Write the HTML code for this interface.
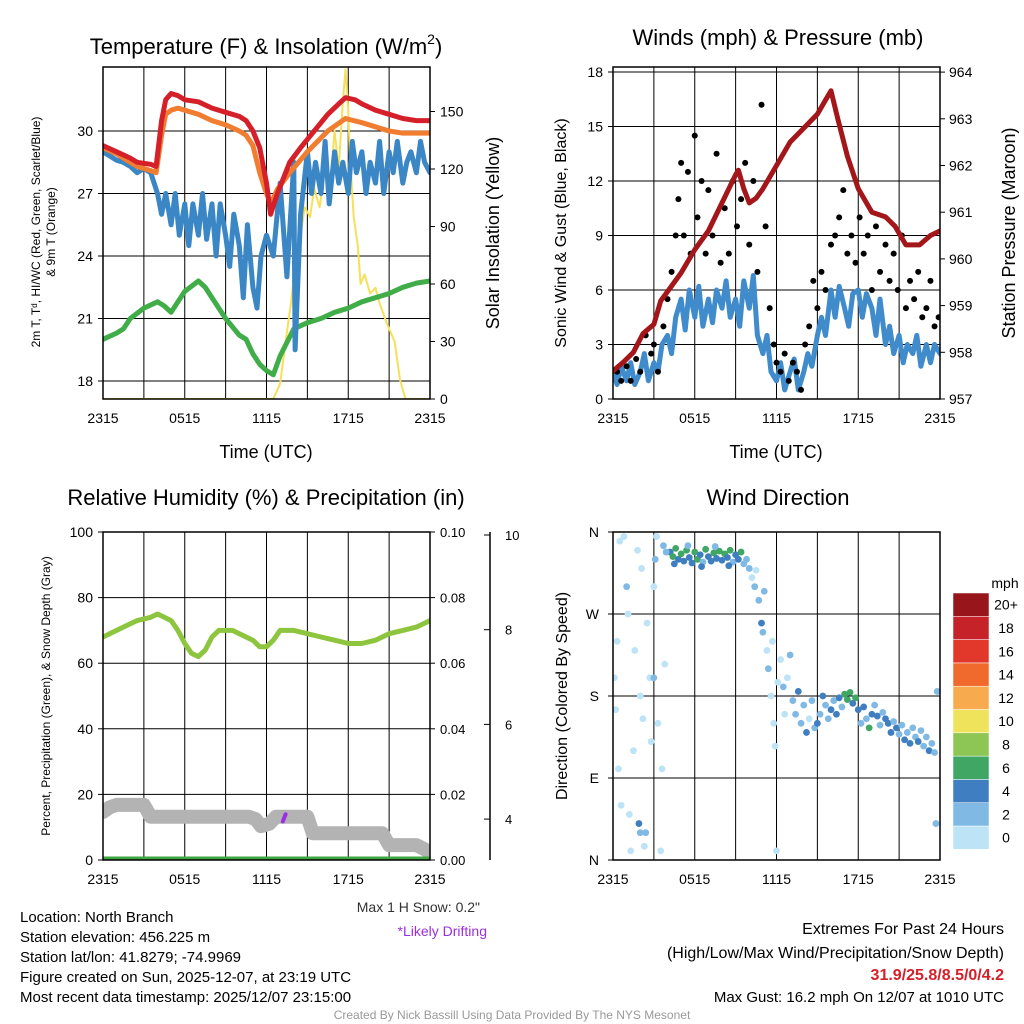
<!DOCTYPE html>
<html><head><meta charset="utf-8"><style>
html,body{margin:0;padding:0;background:#fff;}
svg{display:block;font-family:"Liberation Sans",sans-serif;}
</style></head><body>
<svg id="c" width="1024" height="1024" viewBox="0 0 1024 1024"></svg>
<script>
// ---------- DATA ----------
const xTickLabels = ["2315","0515","1115","1715","2315"];
const tempTicks = [18,21,24,27,30];
const insolTicks = [0,30,60,90,120,150];
const windTicks = [0,3,6,9,12,15,18];
const presTicks = [957,958,959,960,961,962,963,964];
const rhTicks = [0,20,40,60,80,100];
const precipTicks = ["0.00","0.02","0.04","0.06","0.08","0.10"];
const snowTicks = [4,6,8,10];
const dirTicks = ["N","E","S","W","N"];
const dirTickVals = [0,90,180,270,360];
const cbLabels = ["0","2","4","6","8","10","12","14","16","18","20+"];
const cbColors = ["#bde3f6","#80b9e4","#3f7fc1","#3fa663","#8dc655","#efe35c","#f8aa4f","#f06a2e","#e1382b","#c6222a","#97161c"];

const redH = [0,1,2,2.5,3.5,3.9,4.3,4.6,5,5.5,6,7,8,9,10,10.5,11,11.5,12,12.3,12.8,13.7,14.5,15.5,16.5,17.3,17.8,18.5,19,20,21,22,23,24];
const redV = [29.3,29,28.7,28.5,28.4,28.3,30.5,31.5,31.8,31.7,31.5,31.4,31.1,30.9,30.7,30.5,30,29.2,27.5,26,27,28.5,29.2,30,30.8,31.3,31.6,31.5,31.3,31,30.8,30.6,30.5,30.5];
const orH = [0,1,2,2.5,3.5,3.9,4.3,4.6,5,5.5,6,7,8,9,10,10.5,11,11.5,12,12.3,12.8,13.7,15,16.5,17.8,19,20,21,22,23,24];
const orV = [29.2,28.9,28.5,28.3,28.1,28,29.8,30.8,31,31.1,31,30.8,30.5,30.3,30,29.8,29.3,28,27,26.5,27.2,28,29,30,30.6,30.4,30.2,30,29.9,29.9,29.9];
const blueH = [0,0.5,1,1.5,2,2.5,3,3.5,4,4.3,4.6,5,5.3,5.6,6,6.3,6.6,7,7.3,7.6,8,8.3,8.6,9,9.3,9.6,10,10.3,10.6,11,11.3,11.6,12,12.5,13,13.5,14,14.1,14.5,15,15.3,15.6,16,16.3,16.6,17,17.3,17.6,18,18.3,18.6,19,19.3,19.6,20,20.3,20.6,21,21.3,21.6,22,22.3,22.6,23,23.3,23.6,24];
const blueV = [29,28.8,28.6,28.5,28.3,28,28.2,28,27,26,27,25.5,27,25,26.5,24.5,26.5,25,27,24.8,26.5,24,26.5,25,23.5,26,24.5,22,25.5,22.5,21.5,24,25,24,27.5,23,28.5,19.5,26,29,27,28.5,27,29.5,26.5,29,27.5,28.5,27,29.5,28,29,27,28.5,27.5,29.5,27,29,28,29.5,27.5,28.5,29,28,29.5,28.5,28];
const greenH = [0,1,1.5,2,3,4,4.5,5,5.5,6,7,7.5,8,9,10,10.5,11,11.5,12,12.5,13,14,15,16,17,18,19,20,21,22,23,24];
const greenV = [20,20.3,20.5,21,21.5,21.8,21.6,21.3,21.8,22.3,22.8,22.5,22,21,20.2,20,19.3,18.8,18.5,18.3,19.2,20.5,20.8,21,21.3,21.5,21.8,22,22.2,22.5,22.7,22.8];
const insH = [0,12,12.5,13,13.4,13.8,14.1,14.5,14.8,15.2,15.5,15.9,16.3,16.6,17,17.3,17.6,17.8,18,18.1,18.4,18.7,18.9,19.2,19.6,20,20.3,20.8,21.4,21.8,22.2,24];
const insV = [0,0,0,8,30,50,70,85,100,95,110,100,120,105,140,120,155,172,150,130,95,80,60,65,55,58,50,40,30,10,0,0];

const windH = [0,0.3,0.6,1,1.3,1.6,2,2.3,2.6,3,3.3,3.6,4,4.3,4.6,5,5.3,5.6,6,6.3,6.6,7,7.3,7.6,8,8.3,8.6,9,9.3,9.6,10,10.3,10.6,11,11.3,11.6,12,12.3,12.6,13,13.3,13.6,14,14.3,14.6,15,15.3,15.6,16,16.3,16.6,17,17.3,17.6,18,18.3,18.6,19,19.3,19.6,20,20.3,20.6,21,21.3,21.6,22,22.3,22.6,23,23.3,23.6,24];
const windV = [1.5,0.8,1.8,1,2,0.8,1.5,2.5,1,2,1.5,3,3.5,2.5,4.5,5.5,3.8,6,4.5,6.2,4,5.5,4.2,6,5,6.5,4.5,5.5,4,6.5,5,6.8,3.5,2.5,3.5,1.5,1,2,0.5,1.5,2.2,0.5,1.5,2.5,1.8,3.5,4.5,3.5,6,4.5,6.2,5,4,5.8,6,4.5,5.8,5,3.5,5.5,3,4,2.5,3.5,2,3,2.5,3.5,1.8,3,2,3,2.5];
const gustH = [0.3,0.6,1,1.3,1.7,2,2.4,2.8,3,3.3,3.7,4,4.3,4.6,4.8,5,5.2,5.5,5.7,6,6.2,6.5,6.8,7,7.3,7.6,7.9,8.2,8.5,8.8,9.1,9.4,9.7,10,10.3,10.6,10.9,11.2,11.5,11.8,12,12.3,12.6,12.9,13.2,13.5,13.8,14.1,14.4,14.7,15,15.3,15.6,16,16.3,16.6,16.9,17.2,17.5,17.8,18.1,18.4,18.7,19,19.3,19.6,20,20.3,20.6,20.9,21.2,21.5,21.8,22.1,22.4,22.7,23,23.3,23.6,23.9];
const gustV = [1.5,1,1.8,1,2.2,1.5,3.5,2.5,3,1.5,4,5.5,7,9,11,13,9,12.5,8,14.5,10,12,8,11.5,9,13.5,7.5,10.5,8,12,9.5,11,13,8.5,12,7,16.2,9.5,5,3,2,1.5,2.5,1,2,1.5,0.5,3,4,6.5,5,7,6,8.5,9,10,11.5,8,9,7.5,10,8,9,6,9.5,7,8.5,6.5,8,6,9,5,6.5,5.5,7,4.5,5,6.5,4,4.5];
const presH = [0,0.8,1.5,2.2,3,3.5,4,5,6,7,8,8.5,9,9.2,9.6,10,10.5,11,12,13,14,15,15.6,16,16.5,17.2,18,19,20,20.7,21.5,22.5,23.3,24];
const presV = [957.6,957.8,958,958.4,958.6,959.1,959.3,959.7,960.2,960.6,961.2,961.5,961.8,961.9,961.5,961.2,961.3,961.5,962,962.5,962.8,963.1,963.4,963.6,963.0,962.2,961.5,961.0,960.9,960.7,960.3,960.3,960.5,960.6];

const rhH = [0,1,2,2.5,3.5,4,4.5,5,5.5,6,6.5,7,7.5,8,8.5,9.5,10.5,11,11.5,12,12.5,13,14,15,16,17,18,19,20,21,22,23,24];
const rhV = [68,70,72,73,74,75,74,73,70,66,63,62,64,68,70,70,68,67,65,65,67,70,70,69,68,67,66,66,67,69,70,71,73];
const precipH = [0,24];
const precipV = [0,0];
const snowH = [0,0.5,1,3,3.5,10.7,11.2,11.6,12.2,12.7,15,15.4,20.5,21,23,24];
const snowV = [4.15,4.25,4.3,4.3,4.05,4.05,4.0,3.85,3.9,4.05,4.05,3.7,3.7,3.45,3.45,3.3];

const dirH = [0.1,0.2,0.3,0.5,0.6,0.8,1,1.1,1.3,1.5,1.6,1.8,2,2.1,2.2,2.4,2.5,2.7,2.8,3,3,3.2,3.3,3.5,3.6,3.8,1.9,2,2.3,0.4,1.2,3.1,3.7,
4.2,4.4,4.6,4.8,5,5.2,5.4,5.6,5.8,6,6.2,6.4,6.6,6.8,7,7.2,7.4,7.6,7.8,8,8.2,8.4,8.6,8.8,9,9.2,9.4,9.6,4.5,5.5,6.5,7.5,8.5,9.8,3.9,
10,10.2,10.4,10.5,10.7,10.9,11,11.1,11.3,11.4,11.6,11.7,11.8,11.9,12,12.1,12.3,12.5,12.6,12.8,13,13.2,13.4,13.6,13.8,14,14.2,14.4,14.6,14.8,15,15.2,15.4,15.6,15.8,16,16.2,16.4,16.6,16.8,17,17.2,17.4,17.6,17.8,18,18.2,18.4,18.6,18.8,19,19.2,19.4,19.6,19.8,20,20.2,20.4,20.6,20.8,21,21.2,21.4,21.6,21.8,22,22.2,22.4,22.6,22.8,23,23.2,23.4,23.6,23.8,23.7];
const dirV = [200,165,240,350,60,355,300,270,10,120,230,340,180,320,155,30,260,200,130,200,300,355,150,10,100,215,40,30,15,100,50,330,345,
338,333,342,330,336,328,340,332,326,338,330,335,327,341,333,328,337,331,339,329,336,332,340,327,335,330,338,325,325,345,322,344,323,330,338,
320,310,300,318,285,260,250,295,230,210,180,240,150,125,10,195,220,190,160,200,225,175,160,185,150,170,140,155,175,145,150,160,180,170,155,165,175,160,178,168,182,176,184,172,178,165,150,168,155,145,160,170,158,148,162,155,150,140,152,145,138,148,132,140,128,145,135,130,142,125,135,120,128,118,185,40];
const dirS = [0,0,0,0,0,0,2,0,0,0,0,0,0,1,0,2,0,0,0,2,0,1,0,0,1,0,4,3,0,0,0,2,2,
5,6,7,5,6,4,7,5,4,6,7,5,3,6,5,4,7,5,6,4,7,5,6,3,5,4,6,3,4,3,4,3,4,2,2,
2,1,3,1,2,4,2,2,1,2,1,1,1,1,1,1,1,2,1,1,2,3,2,4,2,3,4,1,3,2,4,3,4,2,3,4,3,4,5,3,6,7,6,5,7,4,3,4,3,6,4,3,4,3,2,4,5,4,3,4,3,2,4,3,4,2,3,4,2,3,2,4,3,2,2,2];

// ---------- DRAW ----------
const svg = document.getElementById('c');
const NS = 'http://www.w3.org/2000/svg';
function mk(tag, attrs, parent, name, inter){
  const e = document.createElementNS(NS, tag);
  for (const k in attrs) e.setAttribute(k, attrs[k]);
  
  
  (parent || svg).appendChild(e);
  return e;
}
function txt(x,y,s,size,anchor,name,extra){
  const a = Object.assign({x:x,y:y,'font-size':size,'text-anchor':anchor||'middle',fill:'#000'}, extra||{});
  const t = mk('text', a, svg, name, false);
  t.textContent = s;
  return t;
}
function vtxt(x,y,s,size,name,rot){
  const t = mk('text',{x:0,y:0,'font-size':size,'text-anchor':'middle',fill:'#000',transform:`translate(${x},${y}) rotate(${rot||-90})`},svg,name,false);
  t.textContent = s; return t;
}
const PW = 327;
function panel(x0,y0,h,name){
  const g = mk('g',{},svg,name,false);
  for (let i=1;i<8;i++){
    const x = x0 + i*PW/8;
    mk('line',{x1:x,y1:y0,x2:x,y2:y0+h,stroke:'#000','stroke-width':1},g,'grid-vertical',false);
  }
  return g;
}
function xAxisLabels(x0,yb,name){
  xTickLabels.forEach((l,i)=>{ txt(x0+i*PW/4, yb+24, l, 14, 'middle', name+'-tick-'+i); });
}
function poly(g,hs,vs,xf,yf,color,w,name){
  let d='';
  hs.forEach((h,i)=>{ d += (i?'L':'M') + xf(h).toFixed(1)+','+yf(vs[i]).toFixed(1); });
  mk('path',{d:d,fill:'none',stroke:color,'stroke-width':w,'stroke-linejoin':'round','stroke-linecap':'round'},g,name,false);
}

// Panel 1
(function(){
  const x0=103,y0=67,y1=399;
  const g = panel(x0,y0,y1-y0,'temperature-panel');
  const xs = h=>x0+h*PW/24;
  const yT = v=>381-(v-18)*62.5/3;
  const yI = v=>399-v*57.5/30;
  tempTicks.forEach(v=>{ mk('line',{x1:x0,x2:x0+PW,y1:yT(v),y2:yT(v),stroke:'#000','stroke-width':1},g,'temp-gridline',false);
    mk('line',{x1:x0-5,x2:x0,y1:yT(v),y2:yT(v),stroke:'#000'},g,'temp-tick',false);
    txt(x0-10,yT(v)+5,String(v),14,'end','temp-tick-label'); });
  insolTicks.forEach(v=>{ mk('line',{x1:x0+PW,x2:x0+PW+5,y1:yI(v),y2:yI(v),stroke:'#000'},g,'insol-tick',false);
    txt(x0+PW+10,yI(v)+5,String(v),14,'start','insol-tick-label'); });
  const cl = mk('clipPath',{id:'cp1'},svg,'clip1',false);
  mk('rect',{x:x0,y:y0,width:PW,height:y1-y0},cl,'clip-rect',false);
  const s = mk('g',{'clip-path':'url(#cp1)'},g,'series',false);
  poly(s,insH,insV,xs,yI,'#f6e05a',2,'insolation-line');
  poly(s,greenH,greenV,xs,yT,'#41ad49',5,'dewpoint-line');
  poly(s,blueH,blueV,xs,yT,'#3b87c6',5,'windchill-line');
  poly(s,orH,orV,xs,yT,'#f07d30',5,'temp-9m-line');
  poly(s,redH,redV,xs,yT,'#d5202a',5,'temp-2m-line');
  mk('rect',{x:x0,y:y0,width:PW,height:y1-y0,fill:'none',stroke:'#000','stroke-width':1.5},g,'plot-frame',false);
  xAxisLabels(x0,y1,'p1-x');
  const t = mk('text',{x:266,y:54,'font-size':22,'text-anchor':'middle',fill:'#000'},svg,'temp-title',false);
  t.appendChild(document.createTextNode('Temperature (F) & Insolation (W/m'));
  const sup = mk('tspan',{'font-size':14,dy:-10},t,'temp-title-sup',false);
  sup.textContent='2';
  const cp = mk('tspan',{dy:10},t,'temp-title-close',false);
  cp.textContent=')';
  txt(266,458,'Time (UTC)',18,'middle','p1-x-title');
  vtxt(40,232,'2m T, T\u1D48, HI/WC (Red, Green, Scarlet/Blue)',12,'temp-y-title');
  vtxt(55,232,'& 9m T (Orange)',12,'temp-y-title-2');
  vtxt(499,233,'Solar Insolation (Yellow)',18,'insol-y-title');
})();

// Panel 2
(function(){
  const x0=613,y0=67,y1=399;
  const g = panel(x0,y0,y1-y0,'wind-panel');
  const xs = h=>x0+h*PW/24;
  const yW = v=>399-v*54.5/3;
  const yP = v=>399-(v-957)*46.7;
  windTicks.forEach(v=>{ mk('line',{x1:x0,x2:x0+PW,y1:yW(v),y2:yW(v),stroke:'#000'},g,'wind-gridline',false);
    mk('line',{x1:x0-5,x2:x0,y1:yW(v),y2:yW(v),stroke:'#000'},g,'wind-tick',false);
    txt(x0-10,yW(v)+5,String(v),14,'end','wind-tick-label'); });
  presTicks.forEach(v=>{ mk('line',{x1:x0+PW,x2:x0+PW+5,y1:yP(v),y2:yP(v),stroke:'#000'},g,'pres-tick',false);
    txt(x0+PW+9,yP(v)+5,String(v),14,'start','pres-tick-label'); });
  const cl = mk('clipPath',{id:'cp2'},svg,'clip2',false);
  mk('rect',{x:x0,y:y0,width:PW,height:y1-y0},cl,'clip-rect',false);
  const s = mk('g',{'clip-path':'url(#cp2)'},g,'series',false);
  poly(s,windH,windV,xs,yW,'#3f8bcb',5,'wind-speed-line');
  gustH.forEach((h,i)=>{ mk('circle',{cx:xs(h),cy:yW(gustV[i]),r:3,fill:'#000'},s,'gust-point',false); });
  poly(s,presH,presV,xs,yP,'#a3161a',5,'pressure-line');
  mk('rect',{x:x0,y:y0,width:PW,height:y1-y0,fill:'none',stroke:'#000','stroke-width':1.5},g,'plot-frame',false);
  xAxisLabels(x0,y1,'p2-x');
  txt(778,45,'Winds (mph) & Pressure (mb)',22,'middle','wind-title');
  txt(776,458,'Time (UTC)',18,'middle','p2-x-title');
  vtxt(566,233,'Sonic Wind & Gust (Blue, Black)',16,'wind-y-title');
  vtxt(1015,233,'Station Pressure (Maroon)',18,'pres-y-title');
})();

// Panel 3
(function(){
  const x0=103,y0=532,y1=860;
  const g = panel(x0,y0,y1-y0,'humidity-panel');
  const xs = h=>x0+h*PW/24;
  const yR = v=>860-v*3.28;
  const yS = v=>535+(10-v)*47.35;
  rhTicks.forEach((v,i)=>{ mk('line',{x1:x0,x2:x0+PW,y1:yR(v),y2:yR(v),stroke:'#000'},g,'rh-gridline',false);
    mk('line',{x1:x0-5,x2:x0,y1:yR(v),y2:yR(v),stroke:'#000'},g,'rh-tick',false);
    txt(x0-10,yR(v)+5,String(v),14,'end','rh-tick-label');
    mk('line',{x1:x0+PW,x2:x0+PW+5,y1:yR(v),y2:yR(v),stroke:'#000'},g,'precip-tick',false);
    txt(x0+PW+10,yR(v)+5,precipTicks[i],13,'start','precip-tick-label'); });
  mk('line',{x1:490,x2:490,y1:532,y2:860,stroke:'#000','stroke-width':1.5},g,'snow-axis',false);
  snowTicks.forEach(v=>{ mk('line',{x1:484,x2:490,y1:yS(v),y2:yS(v),stroke:'#000'},g,'snow-tick',false);
    txt(505,yS(v)+5,String(v),13,'start','snow-tick-label'); });
  const cl = mk('clipPath',{id:'cp3'},svg,'clip3',false);
  mk('rect',{x:x0,y:y0,width:PW,height:y1-y0},cl,'clip-rect',false);
  const s = mk('g',{'clip-path':'url(#cp3)'},g,'series',false);
  poly(s,snowH,snowV,xs,yS,'#b3b3b3',14,'snow-depth-line');
  mk('path',{d:`M${xs(13.2)},${yS(3.95)}L${xs(13.4)},${yS(4.1)}`,stroke:'#9b30e0','stroke-width':4,'stroke-linecap':'round'},s,'drifting-mark',false);
  poly(s,rhH,rhV,xs,yR,'#8dc53f',5,'rh-line');
  poly(s,precipH,precipV,xs,yR,'#3ea543',7,'precip-line');
  mk('rect',{x:x0,y:y0,width:PW,height:y1-y0,fill:'none',stroke:'#000','stroke-width':1.5},g,'plot-frame',false);
  xAxisLabels(x0,y1,'p3-x');
  txt(266,505,'Relative Humidity (%) & Precipitation (in)',22,'middle','rh-title');
  vtxt(50,696,'Percent, Precipitation (Green), & Snow Depth (Gray)',12,'rh-y-title');
  txt(480,912,'Max 1 H Snow: 0.2"',14,'end','max-snow-label',{fill:'#333'});
  txt(487,936,'*Likely Drifting',14,'end','drifting-label',{fill:'#9b30e0'});
})();

// Panel 4
(function(){
  const x0=613,y0=532,y1=860;
  const g = panel(x0,y0,y1-y0,'direction-panel');
  const xs = h=>x0+h*PW/24;
  const yD = v=>860-v*328/360;
  dirTickVals.forEach((v,i)=>{ mk('line',{x1:x0,x2:x0+PW,y1:yD(v),y2:yD(v),stroke:'#000'},g,'dir-gridline',false);
    mk('line',{x1:x0-5,x2:x0,y1:yD(v),y2:yD(v),stroke:'#000'},g,'dir-tick',false);
    txt(x0-14,yD(v)+5,dirTicks[i],14,'end','dir-tick-label'); });
  const cl = mk('clipPath',{id:'cp4'},svg,'clip4',false);
  mk('rect',{x:x0,y:y0-4,width:PW,height:y1-y0+8},cl,'clip-rect',false);
  const s = mk('g',{'clip-path':'url(#cp4)'},g,'series',false);
  dirH.forEach((h,i)=>{ const c = cbColors[Math.min(10,Math.floor(dirS[i]/2))];
    mk('circle',{cx:xs(h),cy:yD(dirV[i]),r:3.4,fill:c},s,'direction-point',false); });
  mk('rect',{x:x0,y:y0,width:PW,height:y1-y0,fill:'none',stroke:'#000','stroke-width':1.5},g,'plot-frame',false);
  xAxisLabels(x0,y1,'p4-x');
  txt(778,505,'Wind Direction',22,'middle','dir-title');
  vtxt(567,696,'Direction (Colored By Speed)',16,'dir-y-title');
  const cb = mk('g',{},svg,'speed-colorbar',false);
  txt(1005,588,'mph',14,'middle','colorbar-title');
  const top=593, bh=23.3;
  cbColors.forEach((c,i)=>{ const y = top + (10-i)*bh;
    mk('rect',{x:953,y:y,width:36,height:bh,fill:c,stroke:'#fff','stroke-width':0.5},cb,'colorbar-box',false);
    txt(1006,y+bh/2+5,cbLabels[i],14,'middle','colorbar-label'); });
})();

// Footer text
const info = ["Location: North Branch","Station elevation: 456.225 m","Station lat/lon: 41.8279; -74.9969","Figure created on Sun, 2025-12-07, at 23:19 UTC","Most recent data timestamp: 2025/12/07 23:15:00"];
info.forEach((s,i)=>txt(20,922+i*20,s,15,'start','info-line-'+i));
txt(1004,934,'Extremes For Past 24 Hours',16,'end','extremes-title');
txt(1004,958,'(High/Low/Max Wind/Precipitation/Snow Depth)',16,'end','extremes-subtitle');
txt(1004,980,'31.9/25.8/8.5/0/4.2',16,'end','extremes-values',{fill:'#d5202a','font-weight':'bold'});
txt(1004,1002,'Max Gust: 16.2 mph On 12/07 at 1010 UTC',15,'end','max-gust');
txt(512,1019,'Created By Nick Bassill Using Data Provided By The NYS Mesonet',12,'middle','credit',{fill:'#999'});
</script>
</body></html>
